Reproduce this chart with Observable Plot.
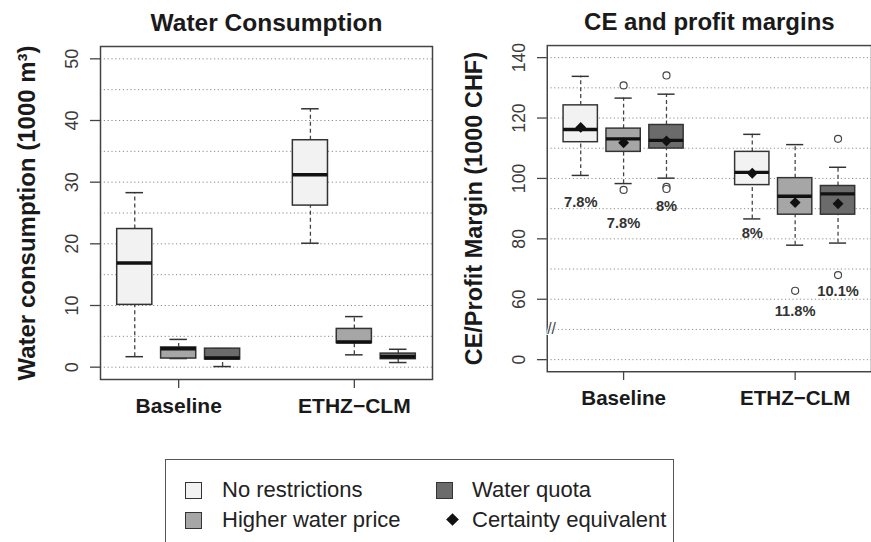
<!DOCTYPE html>
<html>
<head>
<meta charset="utf-8">
<script src="https://cdn.jsdelivr.net/npm/d3@7"></script>
<script src="https://cdn.jsdelivr.net/npm/@observablehq/plot@0.6"></script>
<style>
  html, body { margin: 0; padding: 0; background: #fff; }
  body { width: 871px; height: 542px; overflow: hidden; position: relative;
         font-family: "Liberation Sans", Arial, Helvetica, sans-serif; }
  #left { position: absolute; left: 0; top: 0; }
  #right { position: absolute; left: 440px; top: 0; }
  #legend { position: absolute; left: 165px; top: 459px; width: 509px; height: 110px;
            border: 1.5px solid #555; box-sizing: border-box; background: #fff; }
  .item { position: absolute; font-size: 22px; color: #222; line-height: 1; white-space: nowrap; }
  .sw { position: absolute; width: 15px; height: 15px; border: 1.3px solid #333; }
  .dia { position: absolute; width: 9px; height: 9px; background: #111; transform: rotate(45deg); }
</style>
</head>
<body>
<div id="left"></div>
<div id="right"></div>
<div id="legend"></div>
<script>
// ---------------- data ----------------
const scenarios = ["Baseline", "ETHZ\u2212CLM"];
const policies = ["No restrictions", "Higher water price", "Water quota"];
const policyFill = ["#f2f2f2", "#a6a6a6", "#6b6b6b"];
const ceLabel = "Certainty equivalent";

// order of boxes: Baseline (NR, HWP, WQ), ETHZ−CLM (NR, HWP, WQ)
const waterLow  = [1.7, 1.4, 0.1, 20.1, 2.0, 0.75];
const waterQ1   = [10.1, 1.4, 1.25, 26.2, 3.9, 1.3];
const waterMed  = [16.9, 3.0, 1.5, 31.2, 4.1, 1.7];
const waterQ3   = [22.4, 3.2, 3.0, 36.8, 6.2, 2.2];
const waterHigh = [28.3, 4.5, 3.0, 41.9, 8.2, 2.9];
const waterTicks = [0, 10, 20, 30, 40, 50];

const profitLow  = [101.0, 98.3, 100.1, 86.6, 77.9, 78.6];
const profitQ1   = [112.0, 108.8, 109.9, 97.8, 88.0, 88.0];
const profitMed  = [116.2, 113.1, 112.6, 102.0, 94.1, 94.9];
const profitQ3   = [124.2, 116.5, 117.7, 108.8, 100.1, 97.5];
const profitHigh = [133.8, 126.6, 127.9, 114.6, 111.2, 103.7];
const profitCE   = [116.9, 111.8, 112.4, 101.7, 92.0, 91.6];
const outlierBox = [1, 1, 2, 2, 2, 4, 5, 5];
const outlierVal = [130.8, 96.2, 134.1, 97.2, 96.5, 62.8, 113.1, 68.0];
const pctText = ["7.8%", "7.8%", "8%", "8%", "11.8%", "10.1%"];
const pctAt   = [92.2, 85.1, 90.9, 82.0, 56.1, 62.6];
const profitTicks = [0, 60, 80, 100, 120, 140];
const breakBelow = 60;   // axis is broken between 0 and 60

// ---------------- helpers ----------------
const FONT = '"Liberation Sans", Arial, Helvetica, sans-serif';
const posOf = i => Math.floor(i / 3) * 4 + (i % 3) + 1;   // 1,2,3,5,6,7
const groupPos = scenarios.map((s, g) => g * 4 + 2);
const half = 0.4, cap = 0.2;
// axis break: values below the break are shifted up to sit just under it
const brk = v => v < breakBelow ? v + 40 : v;

const water = d3.range(6).map(i => ({
  pos: posOf(i), policy: policies[i % 3],
  low: waterLow[i], q1: waterQ1[i], med: waterMed[i], q3: waterQ3[i], high: waterHigh[i]
}));
const profit = d3.range(6).map(i => ({
  pos: posOf(i), policy: policies[i % 3],
  low: profitLow[i], q1: profitQ1[i], med: profitMed[i], q3: profitQ3[i], high: profitHigh[i],
  ce: profitCE[i], pct: pctText[i], pctY: pctAt[i]
}));
const outliers = outlierBox.map((b, k) => ({pos: posOf(b), v: outlierVal[k]}));

function boxMarks(rows) {
  return [
    Plot.ruleX(rows, {x: "pos", y1: "q3", y2: "high", stroke: "#444", strokeWidth: 1.3, strokeDasharray: "4,3"}),
    Plot.ruleX(rows, {x: "pos", y1: "low", y2: "q1", stroke: "#444", strokeWidth: 1.3, strokeDasharray: "4,3"}),
    Plot.ruleY(rows, {y: "high", x1: d => d.pos - cap, x2: d => d.pos + cap, stroke: "#333", strokeWidth: 1.5}),
    Plot.ruleY(rows, {y: "low", x1: d => d.pos - cap, x2: d => d.pos + cap, stroke: "#333", strokeWidth: 1.5}),
    Plot.rect(rows, {x1: d => d.pos - half, x2: d => d.pos + half, y1: "q1", y2: "q3",
      fill: "policy", stroke: "#333", strokeWidth: 1.5}),
    Plot.ruleY(rows, {y: "med", x1: d => d.pos - half, x2: d => d.pos + half, stroke: "#111", strokeWidth: 3.5})
  ];
}

function common(title, ylab, tickVals, tickPos, ylabDx, tickDx) {
  const tickRows = tickVals.map((v, i) => ({label: String(v), at: tickPos[i]}));
  return [
    Plot.axisY({ticks: tickPos, tickSize: 10, tickFormat: () => "", label: null, stroke: "#444", strokeWidth: 1.3}),
    Plot.axisX({ticks: groupPos, tickSize: 9, tickFormat: () => "", label: null, stroke: "#444", strokeWidth: 1.3}),
    Plot.text(tickRows, {y: "at", frameAnchor: "left", dx: tickDx, rotate: -90,
      text: "label", fontSize: 18, fill: "#3a3a3a", textAnchor: "middle", lineAnchor: "middle"}),
    Plot.text(scenarios, {x: (d, i) => groupPos[i], frameAnchor: "bottom", dy: 27, text: d => d,
      fontSize: 21, fontWeight: "bold", fill: "#1a1a1a", lineAnchor: "middle"}),
    Plot.text([title], {frameAnchor: "top", dy: -23.5, text: d => d, fontSize: 24.5,
      fontWeight: "bold", fill: "#1a1a1a", lineAnchor: "middle"}),
    Plot.text([ylab], {frameAnchor: "left", dx: ylabDx, rotate: -90, text: d => d, fontSize: 24,
      fontWeight: "bold", fill: "#1a1a1a", lineAnchor: "middle", textAnchor: "middle"}),
    Plot.frame({stroke: "#444", strokeWidth: 1.5})
  ];
}

const colorScale = {domain: policies, range: policyFill};

// ---------------- left: water consumption ----------------
const left = Plot.plot({
  width: 440, height: 420,
  marginLeft: 100, marginRight: 8, marginTop: 46, marginBottom: 41,
  style: {fontFamily: FONT, background: "transparent", overflow: "visible"},
  x: {domain: [0.22, 7.78]},
  y: {domain: [-2, 52]},
  color: colorScale,
  marks: [
    Plot.ruleY(d3.range(0, 51, 5), {stroke: "#8a8a8a", strokeWidth: 1, strokeDasharray: "1.2,2.6"}),
    ...boxMarks(water),
    ...common("Water Consumption", "Water consumption (1000 m\u00B3)", waterTicks, waterTicks, -73, -28)
  ]
});
document.getElementById("left").appendChild(left);

// ---------------- right: CE and profit margins ----------------
const right = Plot.plot({
  width: 440, height: 420,
  marginLeft: 109, marginRight: 0, marginTop: 46, marginBottom: 41,
  style: {fontFamily: FONT, background: "transparent", overflow: "visible"},
  x: {domain: [0.22, 7.78]},
  y: {domain: [36, 144]},
  color: colorScale,
  marks: [
    Plot.ruleY(d3.range(40, 141, 10), {stroke: "#8a8a8a", strokeWidth: 1, strokeDasharray: "1.2,2.6"}),
    ...boxMarks(profit),
    Plot.dot(outliers, {x: "pos", y: "v", r: 3.6, stroke: "#444", fill: "white", strokeWidth: 1.2}),
    Plot.dot(profit, {x: "pos", y: "ce", symbol: "diamond2", r: 5, fill: "#111", stroke: "none"}),
    Plot.text(profit, {x: "pos", y: "pctY", text: "pct", fontSize: 15, fontWeight: "bold", fill: "#333"}),
    ...common("CE and profit margins", "CE/Profit Margin (1000 CHF)", profitTicks, profitTicks.map(brk), -74, -29),
    Plot.text([brk(10)], {y: d => d, frameAnchor: "left", text: () => "//", fontSize: 16,
      fill: "#444", stroke: "white", strokeWidth: 2, paintOrder: "stroke"})
  ]
});
document.getElementById("right").appendChild(right);

// ---------------- legend ----------------
const legend = document.getElementById("legend");
const legendItems = [
  {label: policies[0], fill: policyFill[0], col: 0, row: 0},
  {label: policies[1], fill: policyFill[1], col: 0, row: 1},
  {label: policies[2], fill: policyFill[2], col: 1, row: 0},
  {label: ceLabel, fill: null, col: 1, row: 1}
];
legendItems.forEach(it => {
  const sx = it.col === 0 ? 19 : 270;
  const tx = it.col === 0 ? 56 : 306;
  const cy = it.row === 0 ? 30 : 60;
  if (it.fill) {
    const s = document.createElement("div");
    s.className = "sw";
    s.style.left = sx + "px"; s.style.top = (cy - 8) + "px"; s.style.background = it.fill;
    legend.appendChild(s);
  } else {
    const s = document.createElement("div");
    s.className = "dia";
    s.style.left = (sx + 12) + "px"; s.style.top = (cy - 5) + "px";
    legend.appendChild(s);
  }
  const t = document.createElement("div");
  t.className = "item";
  t.textContent = it.label;
  t.style.left = tx + "px"; t.style.top = (cy - 11) + "px";
  legend.appendChild(t);
});
</script>
</body>
</html>
